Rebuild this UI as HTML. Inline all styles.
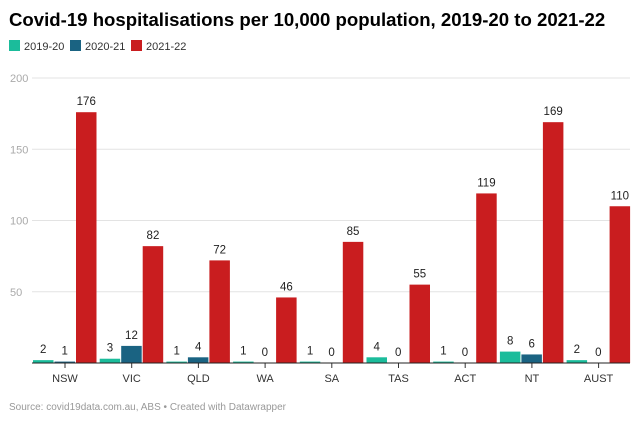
<!DOCTYPE html>
<html><head><meta charset="utf-8"><style>
body{margin:0;background:#fff;font-family:"Liberation Sans",Arial,sans-serif;}
#wrap{position:relative;width:640px;height:422px;overflow:hidden}
</style></head><body>
<div id="wrap">
<svg id="chart" width="640" height="422" xmlns="http://www.w3.org/2000/svg">
<text x="9" y="26" font-size="18.6" font-weight="bold" fill="#000">Covid-19 hospitalisations per 10,000 population, 2019-20 to 2021-22</text>
<g id="legend"></g>
<g id="grid"></g><g id="bars"></g><g id="labels"></g><g id="xaxis"></g>
<text x="9" y="410" font-size="10" fill="#999">Source: covid19data.com.au, ABS • Created with Datawrapper</text>
</svg></div>
<script>
const categories=["NSW","VIC","QLD","WA","SA","TAS","ACT","NT","AUST"];
const series2019=[2,3,1,1,1,4,1,8,2];
const series2020=[1,12,4,0,0,0,0,6,0];
const series2021=[176,82,72,46,85,55,119,169,110];
const seriesNames=["2019-20","2020-21","2021-22"];
const yTicks=[0,50,100,150,200];
const colors=["#1bbc9b","#1a6382","#c91d1f"];
const NS="http://www.w3.org/2000/svg";
function mk(t,a,p){const e=document.createElementNS(NS,t);for(const k in a)e.setAttribute(k,a[k]);p.appendChild(e);return e;}
const y0=363,y200=78;
function y(v){return y0-(v/200)*(y0-y200);}
const x0=33,step=66.7,bw=20.5,off=[0,21.5,43];
function xBand(i){return x0+i*step;}
const grid=document.getElementById('grid');
yTicks.forEach(t=>{
 if(t>0){const l=mk('line',{x1:32,x2:630,y1:y(t),y2:y(t),stroke:'#e3e3e3','stroke-width':1},grid);
 
 }
 const tx=mk('text',{x:10,y:y(t)+4,'font-size':11,fill:'#aaa'},grid);tx.textContent=t===0?'':t;
 
 
});
const leg=document.getElementById('legend');
let lx=9;
seriesNames.forEach((n,i)=>{
 const r=mk('rect',{x:lx,y:40,width:11,height:11,fill:colors[i]},leg);
 
 
 const t=mk('text',{x:lx+15,y:50,'font-size':11,fill:'#333'},leg);t.textContent=n;
 
 
 lx+=61;
});
const bars=document.getElementById('bars'),labels=document.getElementById('labels'),xa=document.getElementById('xaxis');
const all=[series2019,series2020,series2021];
categories.forEach((c,i)=>{
 all.forEach((s,j)=>{
  const v=s[i],x=xBand(i)+off[j];
  const r=mk('rect',{x:x,y:y(v),width:bw,height:y0-y(v),fill:colors[j]},bars);
  
  
  const t=mk('text',{x:x+bw/2,y:y(v)-7,'font-size':11.5,fill:'#222','text-anchor':'middle'},labels);t.textContent=v;
  
  
 });
 const cx=xBand(i)+32;
 const tk=mk('line',{x1:cx,x2:cx,y1:y0,y2:y0+5,stroke:'#333'},xa);
 
 
 const t=mk('text',{x:cx,y:y0+19,'font-size':11,fill:'#333','text-anchor':'middle'},xa);t.textContent=c;
 
 
});
const ax=mk('line',{x1:32,x2:630,y1:y0,y2:y0,stroke:'#222','stroke-width':1},xa);


</script>
</body></html>
